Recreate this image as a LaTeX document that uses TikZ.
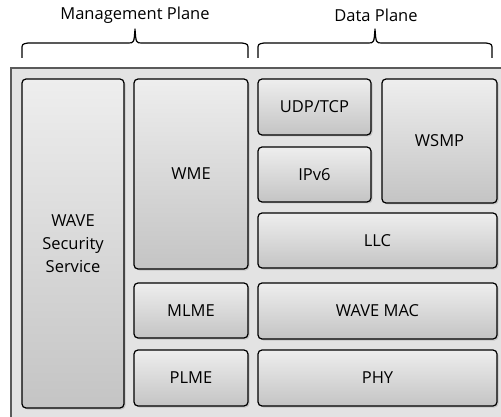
\documentclass[tikz,border=0pt]{standalone}
\usepackage{fontspec}
\setmainfont{Open Sans}
\usetikzlibrary{shadows}
\definecolor{boxtop}{HTML}{EEEEEE}
\definecolor{boxbot}{HTML}{C4C4C4}
\definecolor{stackfill}{HTML}{E3E3E3}
\definecolor{stackline}{HTML}{5A5A5A}
\tikzset{
  layer/.style={draw=black, line width=1.2pt, rounded corners=4pt,
    top color=boxtop, bottom color=boxbot, align=center,
    font=\fontsize{16.5}{23}\selectfont, inner sep=0pt,
    drop shadow={shadow xshift=1.5pt, shadow yshift=-1.5pt, opacity=0.3}},
  plane label/.style={font=\fontsize{16.5}{20}\selectfont, inner sep=0pt},
  brace line/.style={line width=1.2pt, line join=round}
}
% brace: left x, right x, tip x
\newcommand{\planebrace}[3]{
  \draw[brace line] (#1,58) -- (#1,50) .. controls (#1,44) .. (#1+6,43) -- (#3-7,43)
    .. controls (#3-1,43) .. (#3,29) .. controls (#3+1,43) .. (#3+7,43) -- (#2-6,43)
    .. controls (#2,44) .. (#2,50) -- (#2,58);
}
\begin{document}
\begin{tikzpicture}[x=1pt,y=-1pt]
\useasboundingbox (0,0) rectangle (501,417);
\begin{scope}
\clip (0,0) rectangle (501,417);
\draw[stackline, fill=stackfill, line width=1.5pt] (11,68) rectangle (504,420);
\end{scope}
% headings
\node[plane label] (mgmt) at (135,15) {Management Plane};
\node[plane label] (data) at (376,15) {Data Plane};
\planebrace{22}{248}{135}
\planebrace{258}{492}{375}
% management plane
\node[layer, minimum width=102, minimum height=329] (sec) at (73,243.5) {WAVE\\Security\\Service};
\node[layer, minimum width=114, minimum height=190] (wme) at (191,174) {WME};
\node[layer, minimum width=114, minimum height=55] (mlme) at (191,310.5) {MLME};
\node[layer, minimum width=114, minimum height=56] (plme) at (191,378) {PLME};
% data plane
\node[layer, minimum width=113, minimum height=56] (udp) at (314.5,107) {UDP/TCP};
\node[layer, minimum width=113, minimum height=55] (ipv6) at (314.5,174.5) {IPv6};
\node[layer, minimum width=115, minimum height=124] (wsmp) at (439.5,141) {WSMP};
\node[layer, minimum width=239, minimum height=55] (llc) at (377.5,240.5) {LLC};
\node[layer, minimum width=239, minimum height=56] (mac) at (377.5,311) {WAVE MAC};
\node[layer, minimum width=239, minimum height=56] (phy) at (377.5,378) {PHY};
\end{tikzpicture}
\end{document}
